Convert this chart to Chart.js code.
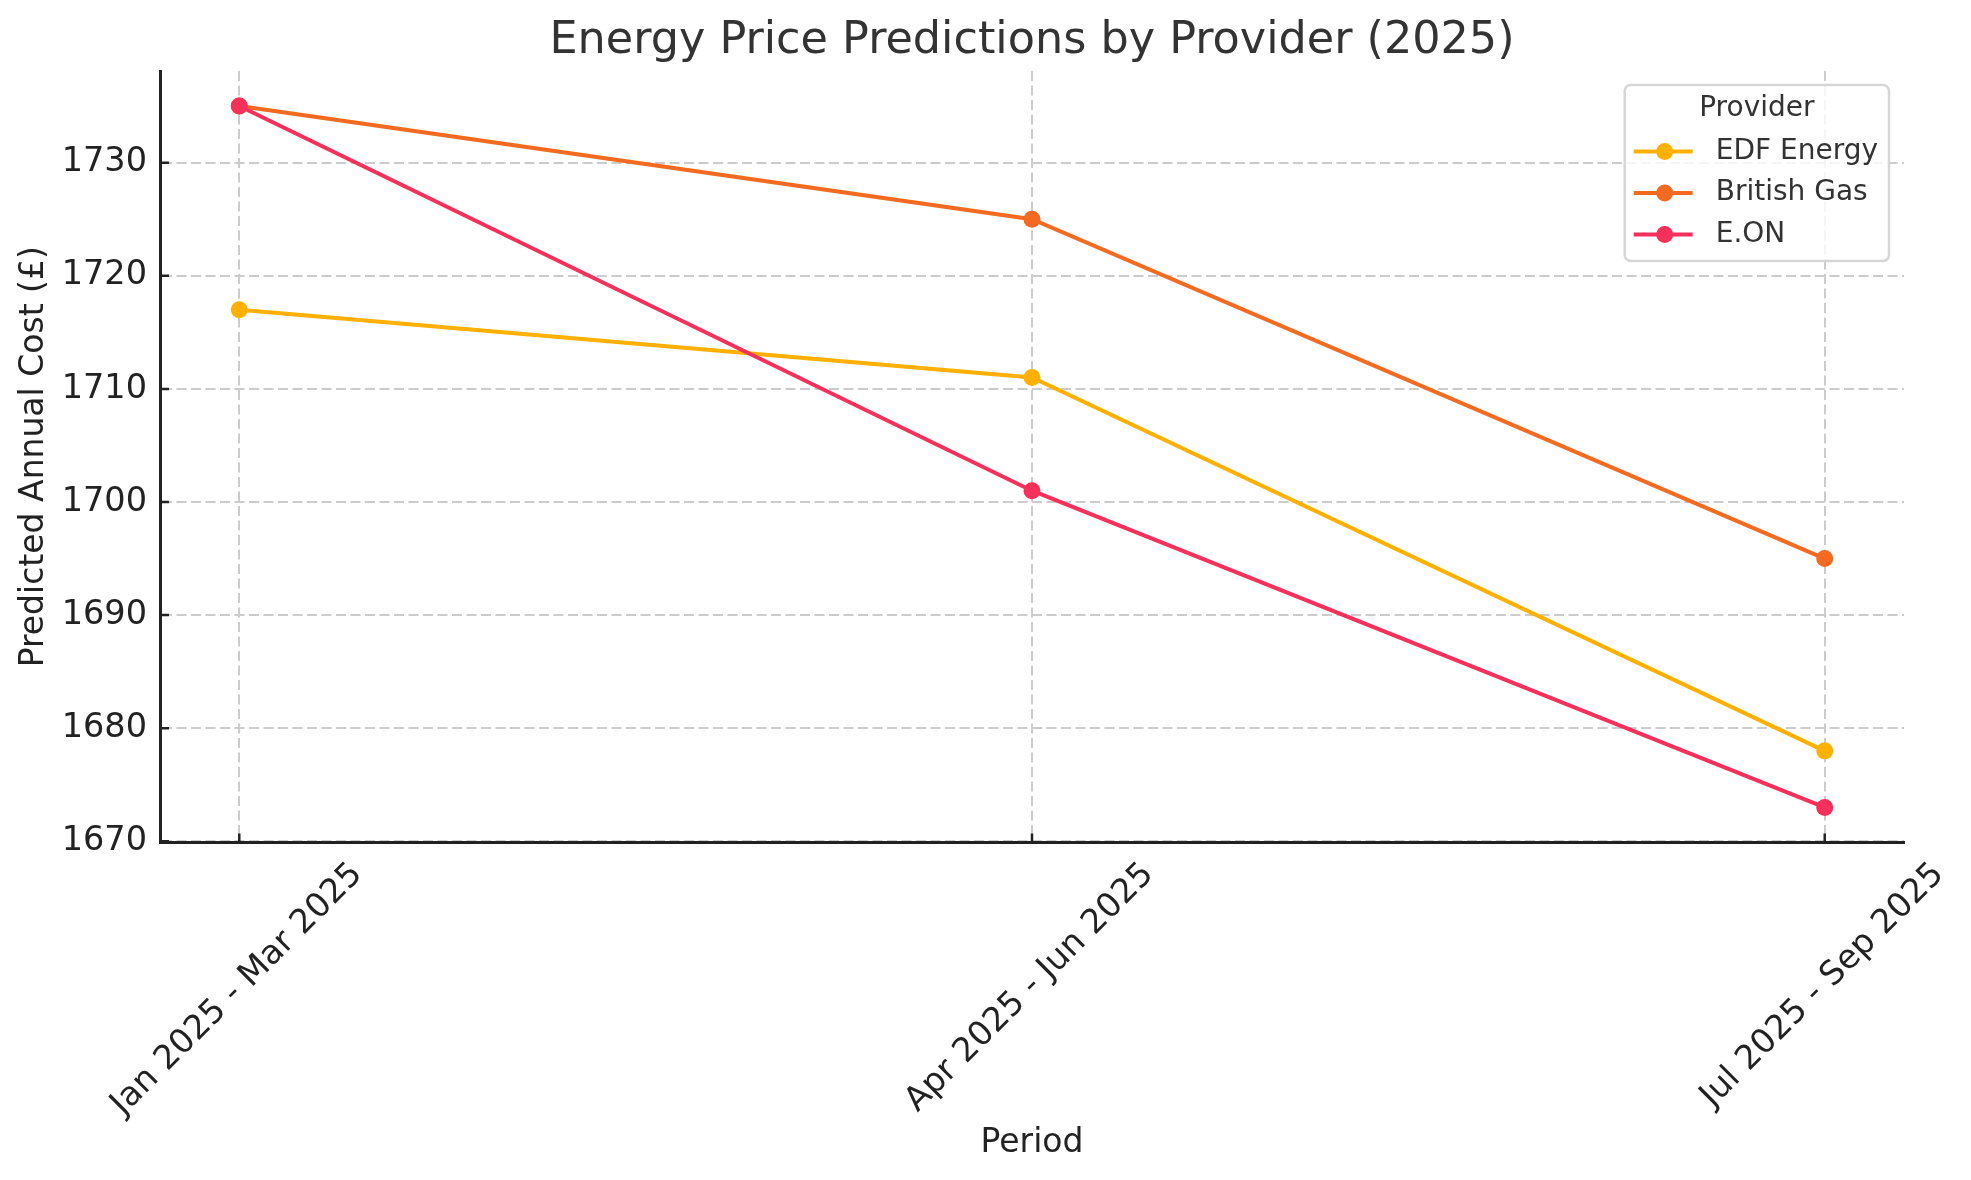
<!DOCTYPE html>
<html>
<head>
<meta charset="utf-8">
<title>Energy Price Predictions by Provider (2025)</title>
<script src="https://cdn.jsdelivr.net/npm/chart.js@4.4.1/dist/chart.umd.min.js"></script>
<style>
  html, body { margin: 0; padding: 0; background: #fff; }
  #chart { display: block; }
</style>
</head>
<body>
<canvas id="chart" width="1971" height="1180"></canvas>
<script>
// Data
const periods = ['Jan 2025 - Mar 2025', 'Apr 2025 - Jun 2025', 'Jul 2025 - Sep 2025'];
const providers = ['EDF Energy', 'British Gas', 'E.ON'];
const edfEnergy = [1717, 1711, 1678];
const britishGas = [1735, 1725, 1695];
const eon = [1735, 1701, 1673];
const yTicks = [1670, 1680, 1690, 1700, 1710, 1720, 1730];

const FONT = '"DejaVu Sans", "Liberation Sans", sans-serif';
const colors = ['#FFB000', '#F46A21', '#F5305A'];
const seriesValues = [edfEnergy, britishGas, eon];
const TICK_SIZE = 33.5;

const toPoints = (values) => values.map((v, i) => ({ x: i, y: v }));

// Matplotlib-like extras: inward ticks, centred rotated x labels, boxed legend
const mplLook = {
    id: 'mplLook',
    afterDraw(chart) {
        const { ctx, chartArea, scales: { x, y } } = chart;
        ctx.save();

        // inward tick marks
        ctx.strokeStyle = '#222';
        ctx.lineWidth = 2.5;
        ctx.beginPath();
        x.ticks.forEach(t => {
            const px = x.getPixelForValue(t.value);
            ctx.moveTo(px, chartArea.bottom);
            ctx.lineTo(px, chartArea.bottom - 9);
        });
        y.ticks.forEach(t => {
            const py = y.getPixelForValue(t.value);
            ctx.moveTo(chartArea.left, py);
            ctx.lineTo(chartArea.left + 9, py);
        });
        ctx.stroke();

        // x tick labels, rotated 45deg, bounding box centred under the tick
        const size = TICK_SIZE;
        ctx.font = size + 'px ' + FONT;
        ctx.fillStyle = '#222';
        ctx.textAlign = 'center';
        ctx.textBaseline = 'middle';
        x.ticks.forEach(t => {
            const label = periods[t.value];
            const w = ctx.measureText(label).width;
            const H = (w + size * 1.164) * Math.SQRT1_2;
            const px = x.getPixelForValue(t.value);
            ctx.save();
            ctx.translate(px - 2, chartArea.bottom + 13 + H / 2);
            ctx.rotate(-Math.PI / 4);
            ctx.fillText(label, 0, 0);
            ctx.restore();
        });

        // legend box
        const lsize = 28;
        ctx.font = lsize + 'px ' + FONT;
        const items = chart.data.datasets;
        const maxW = Math.max(...items.map(d => ctx.measureText(d.label).width));
        const boxW = 9 + 59 + 22 + maxW + 12;
        const boxH = 176;
        const bx = chartArea.right - 15 - boxW;
        const by = chartArea.top + 14;
        ctx.beginPath();
        ctx.roundRect(bx, by, boxW, boxH, 6);
        ctx.fillStyle = 'rgba(255,255,255,0.8)';
        ctx.fill();
        ctx.strokeStyle = '#d6d6d6';
        ctx.lineWidth = 2.5;
        ctx.stroke();

        ctx.fillStyle = '#333';
        ctx.textAlign = 'center';
        ctx.fillText('Provider', bx + boxW / 2, by + 24);

        ctx.textAlign = 'left';
        items.forEach((d, i) => {
            const cy = by + 66.5 + i * 41.5;
            ctx.strokeStyle = d.borderColor;
            ctx.lineWidth = 4;
            ctx.beginPath();
            ctx.moveTo(bx + 9, cy);
            ctx.lineTo(bx + 68, cy);
            ctx.stroke();
            ctx.fillStyle = d.borderColor;
            ctx.beginPath();
            ctx.arc(bx + 40, cy, 8.5, 0, Math.PI * 2);
            ctx.fill();
            ctx.fillStyle = '#333';
            ctx.fillText(d.label, bx + 91, cy);
        });

        ctx.restore();
    }
};

const ctx = document.getElementById('chart');
new Chart(ctx, {
    type: 'line',
    data: {
        datasets: providers.map((name, i) => ({
            label: name,
            data: toPoints(seriesValues[i]),
            borderColor: colors[i],
            backgroundColor: colors[i],
            pointBackgroundColor: colors[i],
            pointBorderWidth: 0,
            pointRadius: 8.5,
            borderWidth: 4,
            tension: 0,
            order: providers.length - i
        }))
    },
    options: {
        responsive: false,
        devicePixelRatio: 1,
        animation: false,
        layout: { padding: { left: 0, right: 67, top: 0, bottom: 0 } },
        plugins: {
            legend: { display: false },
            tooltip: { enabled: false },
            title: {
                display: true,
                fullSize: false,
                text: 'Energy Price Predictions by Provider (2025)',
                color: '#333',
                font: { size: 44.5, family: FONT, weight: 'normal' },
                padding: { top: 15, bottom: 2.6 }
            }
        },
        scales: {
            x: {
                type: 'linear',
                min: -0.1,
                max: 2.1,
                afterBuildTicks: (scale) => { scale.ticks = periods.map((p, i) => ({ value: i })); },
                afterFit: (scale) => { scale.height = 337.5; },
                ticks: { display: false },
                grid: { color: '#cccccc', lineWidth: 2, drawTicks: false },
                border: { color: '#222', width: 3, dash: [10, 4.5] },
                title: {
                    display: true,
                    text: 'Period',
                    color: '#222',
                    font: { size: 33, family: FONT },
                    padding: { top: 0, bottom: 17 }
                }
            },
            y: {
                min: 1669.9,
                max: 1738.1,
                afterBuildTicks: (scale) => { scale.ticks = yTicks.map(v => ({ value: v })); },
                afterFit: (scale) => { scale.width = 160; },
                ticks: {
                    color: '#222',
                    padding: 13,
                    font: { size: TICK_SIZE, family: FONT },
                    callback: (v) => String(v)
                },
                grid: { color: '#cccccc', lineWidth: 2, drawTicks: false },
                border: { color: '#222', width: 3, dash: [10, 4.5] },
                title: {
                    display: true,
                    text: 'Predicted Annual Cost (£)',
                    color: '#222',
                    font: { size: 33, family: FONT },
                    padding: { top: 15, bottom: 0 }
                }
            }
        }
    },
    plugins: [mplLook]
});
</script>
</body>
</html>
